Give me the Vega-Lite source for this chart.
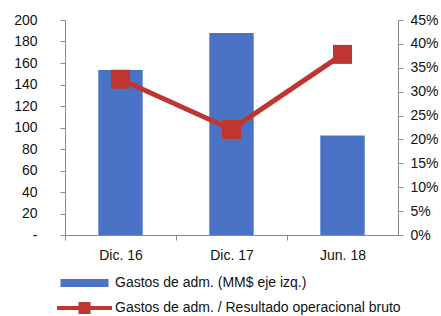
{
  "$schema": "https://vega.github.io/schema/vega-lite/v6.json",
  "width": 333,
  "height": 215,
  "autosize": "none",
  "padding": {"left": 65, "top": 20, "right": 43, "bottom": 81},
  "background": "white",
  "config": {
    "view": {"stroke": null},
    "font": "Liberation Sans",
    "axis": {
      "labelFont": "Liberation Sans",
      "labelFontSize": 14,
      "labelColor": "#111111",
      "domainColor": "#8a8a8a",
      "tickColor": "#8a8a8a",
      "grid": false,
      "title": null
    },
    "legend": {
      "labelFont": "Liberation Sans",
      "labelFontSize": 14,
      "labelColor": "#111111",
      "labelLimit": 0
    }
  },
  "data": {
    "values": [
      {"periodo": "Dic. 16", "gastos": 153.5, "ratio": 0.326},
      {"periodo": "Dic. 17", "gastos": 188, "ratio": 0.221},
      {"periodo": "Jun. 18", "gastos": 92.5, "ratio": 0.378}
    ]
  },
  "encoding": {
    "x": {
      "field": "periodo",
      "type": "nominal",
      "sort": null,
      "scale": {"paddingInner": 0.6, "paddingOuter": 0.3},
      "axis": {
        "labelAngle": 0,
        "tickOffset": -55.5,
        "labelOffset": 55.5,
        "tickSize": 5,
        "labelPadding": 8
      }
    }
  },
  "layer": [
    {
      "mark": {"type": "bar"},
      "encoding": {
        "y": {
          "field": "gastos",
          "type": "quantitative",
          "scale": {"domain": [0, 200]},
          "axis": {
            "values": [0, 20, 40, 60, 80, 100, 120, 140, 160, 180, 200],
            "labelExpr": "datum.value === 0 ? '-' : datum.label",
            "tickSize": 5,
            "labelPadding": 23
          }
        },
        "color": {
          "datum": "Gastos de adm. (MM$ eje izq.)",
          "type": "nominal",
          "scale": {
            "domain": ["Gastos de adm. (MM$ eje izq.)", "Gastos de adm. / Resultado operacional bruto"],
            "range": ["#4a73c6", "#bf3631"]
          },
          "legend": {
            "orient": "bottom",
            "direction": "vertical",
            "title": null,
            "symbolSize": 196,
            "labelOffset": 36,
            "labelLimit": 0,
            "rowPadding": 11,
            "offset": 14,
            "encode": {
              "symbols": {
                "update": {
                  "shape": {"signal": "datum.value === 'Gastos de adm. (MM$ eje izq.)' ? 'M-1.64,-0.57L5.22,-0.57L5.22,0.57L-1.64,0.57Z' : 'M-2.14,-0.29L0.93,-0.29L0.93,-0.86L2.65,-0.86L2.65,-0.29L5.72,-0.29L5.72,0.29L2.65,0.29L2.65,0.86L0.93,0.86L0.93,0.29L-2.14,0.29Z'"},
                  "fill": {"scale": "color", "field": "value"},
                  "stroke": {"value": "transparent"},
                  "strokeWidth": {"value": 0},
                  "opacity": {"value": 1},
                  "fillOpacity": {"value": 1}
                }
              }
            }
          }
        }
      }
    },
    {
      "mark": {"type": "line", "strokeWidth": 5, "point": {"shape": "square", "size": 361, "filled": true, "opacity": 1}},
      "encoding": {
        "y": {
          "field": "ratio",
          "type": "quantitative",
          "scale": {"domain": [0, 0.45]},
          "axis": {
            "orient": "right",
            "format": ".0%",
            "values": [0, 0.05, 0.1, 0.15, 0.2, 0.25, 0.3, 0.35, 0.4, 0.45],
            "tickSize": 5,
            "labelPadding": 7
          }
        },
        "color": {"datum": "Gastos de adm. / Resultado operacional bruto", "type": "nominal"}
      }
    }
  ],
  "resolve": {"scale": {"y": "independent"}}
}
